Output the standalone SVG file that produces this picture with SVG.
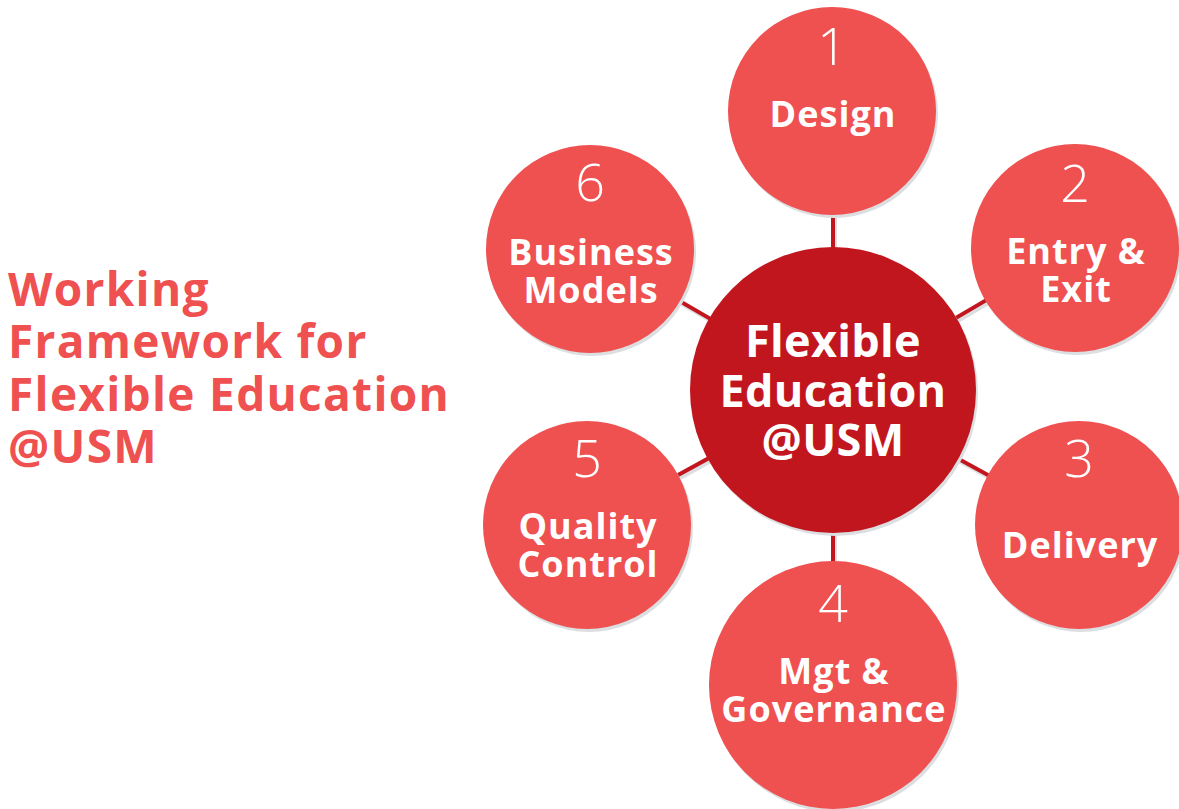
<svg xmlns="http://www.w3.org/2000/svg" width="1179" height="809" viewBox="0 0 1179 809">
<defs>
<style>
.sh{fill:#dcdfe2}
.sat{fill:#ef5050}
.hub{fill:#c2161f}
.num{font-family:"Open Sans","Noto Sans",sans-serif;font-weight:300;font-size:52px;fill:#ffffff;text-anchor:middle}
.lbl{font-family:"Open Sans","Noto Sans",sans-serif;font-weight:700;font-size:36px;letter-spacing:1px;fill:#ffffff;text-anchor:middle}
.hubt{font-family:"Open Sans","Noto Sans",sans-serif;font-weight:700;font-size:45px;letter-spacing:0.3px;fill:#ffffff;text-anchor:middle}
.title{font-family:"Open Sans","Noto Sans",sans-serif;font-weight:700;font-size:46px;letter-spacing:1.3px;fill:#ef5050}
.con{stroke:#c2161f;stroke-width:4;fill:none}
.consh{stroke:#dcdfe2;stroke-width:4;fill:none}
</style>
</defs>
<rect width="1179" height="809" fill="#ffffff"/>
<g id="title">
<text class="title" x="8" y="306">Working</text>
<text class="title" x="8" y="358">Framework for</text>
<text class="title" x="8" y="411">Flexible Education</text>
<text class="title" x="8" y="463">@USM</text>
</g>
<g id="connectors">
<line class="consh" x1="835" y1="393" x2="835" y2="114"/>
<line class="consh" x1="835" y1="393" x2="1077" y2="251"/>
<line class="consh" x1="835" y1="393" x2="1081" y2="528"/>
<line class="consh" x1="835" y1="393" x2="835" y2="687"/>
<line class="consh" x1="835" y1="393" x2="589" y2="528"/>
<line class="consh" x1="835" y1="393" x2="592" y2="252"/>
<line class="con" x1="833" y1="390" x2="833" y2="111"/>
<line class="con" x1="833" y1="390" x2="1075" y2="248"/>
<line class="con" x1="833" y1="390" x2="1079" y2="525"/>
<line class="con" x1="833" y1="390" x2="833" y2="685"/>
<line class="con" x1="833" y1="390" x2="587" y2="525"/>
<line class="con" x1="833" y1="390" x2="590" y2="249"/>
</g>
<g id="hub">
<circle class="sh" cx="835" cy="393" r="143"/>
<circle class="hub" cx="833" cy="390" r="143"/>
<text class="hubt" x="833" y="357">Flexible</text>
<text class="hubt" x="833" y="407">Education</text>
<text class="hubt" x="833" y="456">@USM</text>
</g>
<g id="node1">
<circle class="sh" cx="834" cy="114" r="104"/>
<circle class="sat" cx="832" cy="111" r="104"/>
<text class="num" x="832" y="65">1</text>
<text class="lbl" x="833" y="127">Design</text>
</g>
<g id="node2">
<circle class="sh" cx="1077" cy="251" r="104"/>
<circle class="sat" cx="1075" cy="248" r="104"/>
<text class="num" x="1075" y="202">2</text>
<text class="lbl" x="1076" y="264">Entry &amp;</text>
<text class="lbl" x="1076" y="302">Exit</text>
</g>
<g id="node3">
<circle class="sh" cx="1081" cy="528" r="104"/>
<circle class="sat" cx="1079" cy="525" r="104"/>
<text class="num" x="1079" y="477">3</text>
<text class="lbl" x="1080" y="558">Delivery</text>
</g>
<g id="node4">
<circle class="sh" cx="835" cy="688" r="124"/>
<circle class="sat" cx="833" cy="685" r="124"/>
<text class="num" x="833" y="622">4</text>
<text class="lbl" x="834" y="684">Mgt &amp;</text>
<text class="lbl" x="834" y="722">Governance</text>
</g>
<g id="node5">
<circle class="sh" cx="589" cy="528" r="104"/>
<circle class="sat" cx="587" cy="525" r="104"/>
<text class="num" x="587" y="477">5</text>
<text class="lbl" x="588" y="539">Quality</text>
<text class="lbl" x="588" y="577">Control</text>
</g>
<g id="node6">
<circle class="sh" cx="592" cy="252" r="104"/>
<circle class="sat" cx="590" cy="249" r="104"/>
<text class="num" x="590" y="201">6</text>
<text class="lbl" x="591" y="265">Business</text>
<text class="lbl" x="591" y="303">Models</text>
</g>
</svg>
